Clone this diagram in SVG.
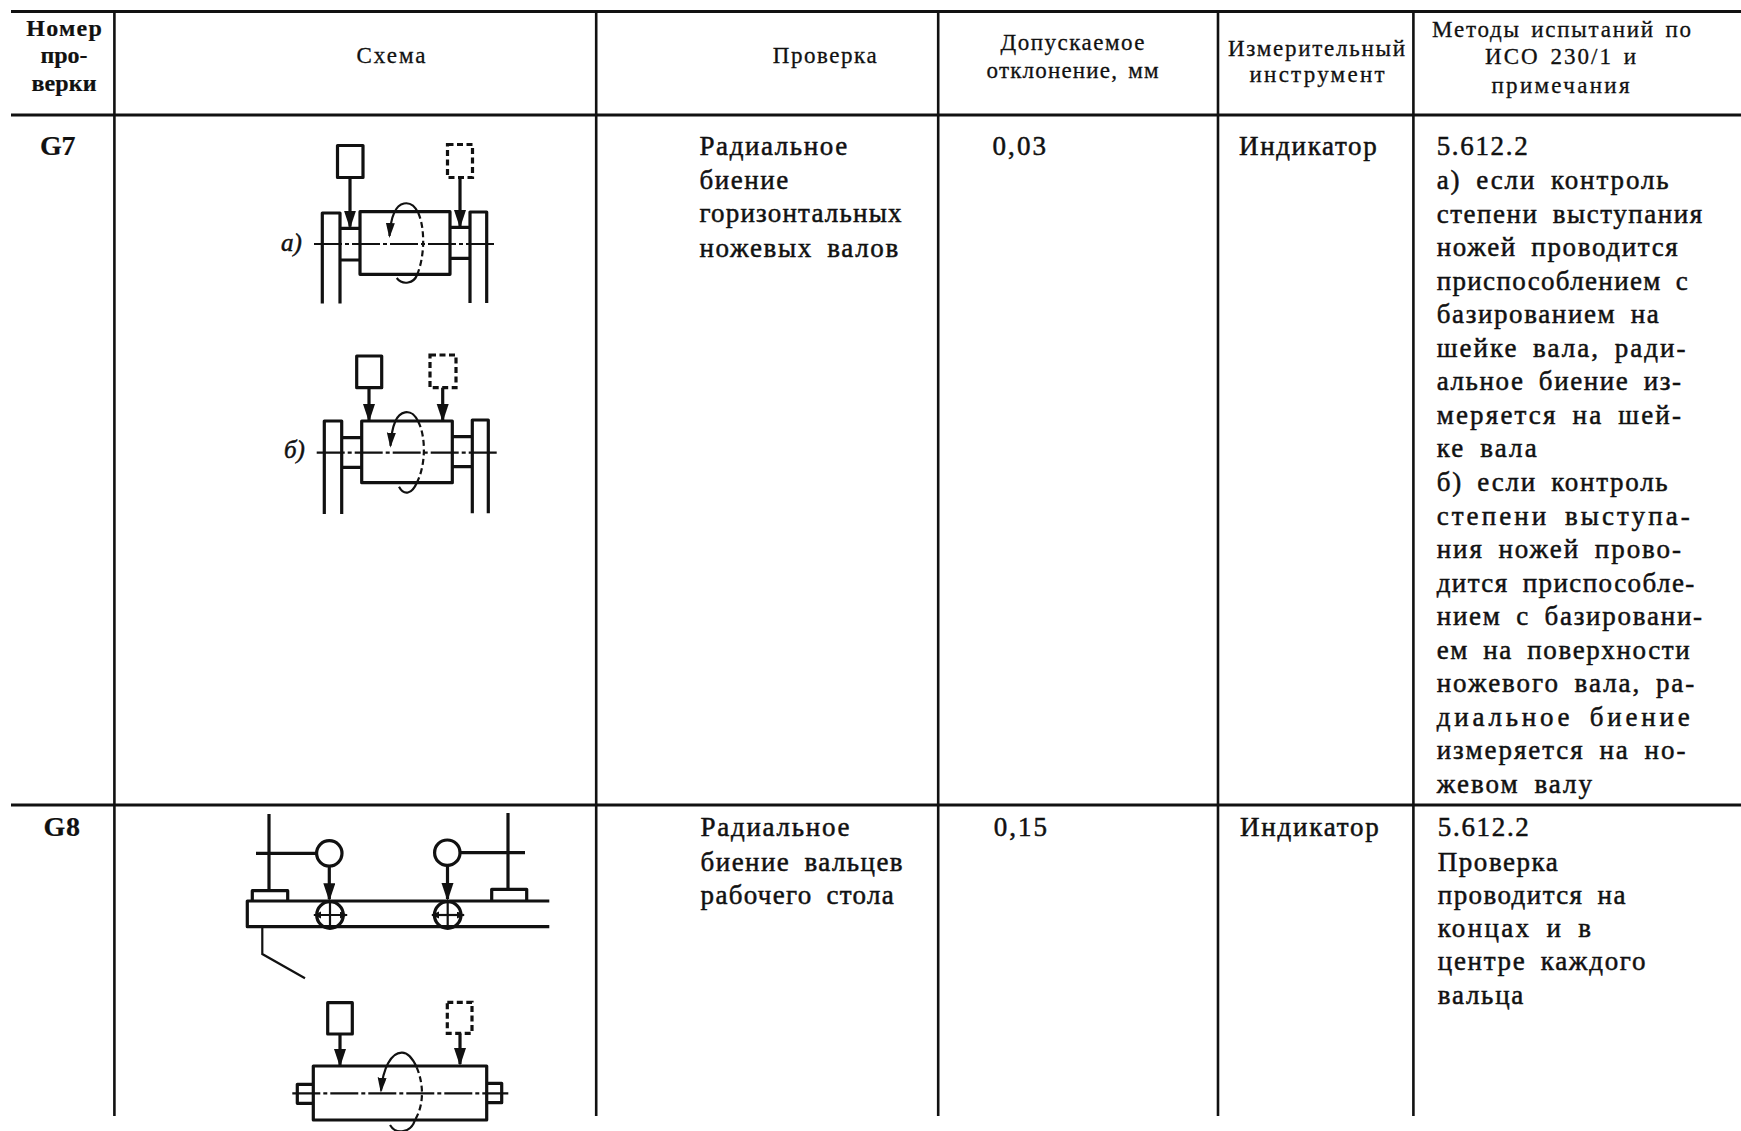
<svg xmlns="http://www.w3.org/2000/svg" width="1741" height="1131" viewBox="0 0 1741 1131">
<style>
text{font-family:"Liberation Serif","DejaVu Serif",serif;fill:#111;font-size:27px;stroke:#111;stroke-width:.5px;word-spacing:6px}
.h{font-size:23px;text-anchor:middle;stroke-width:.3px;word-spacing:3px}
.b{font-weight:bold;stroke-width:.2px;font-size:28px}
.hb{font-size:24px;font-weight:bold;text-anchor:middle;stroke-width:.2px}
.i{font-style:italic;font-size:25px}
.g{fill:none;stroke:#111;stroke-width:3.2;stroke-linejoin:round}
.t{fill:none;stroke:#111;stroke-width:2.2}
.k{fill:none;stroke:#111;stroke-width:3}
.l{fill:none;stroke:#111;stroke-width:2.6}
.d{fill:none;stroke:#111;stroke-width:3.2;stroke-dasharray:6 3.5}
.c{fill:none;stroke:#111;stroke-width:2.2;stroke-dasharray:28 3 4 3}
.r{fill:none;stroke:#111;stroke-width:2.2}
.rd{fill:none;stroke:#111;stroke-width:2.2;stroke-dasharray:6 3.5}
.a{fill:none;stroke:#111;stroke-width:3.2;marker-end:url(#ah)}
</style>
<defs>
<marker id="ah" markerUnits="userSpaceOnUse" markerWidth="20" markerHeight="14" refX="16" refY="6" orient="auto"><path d="M0 0L18 6L0 12Z" fill="#111"/></marker>
<marker id="as" markerUnits="userSpaceOnUse" markerWidth="18" markerHeight="12" refX="13" refY="4.500" orient="auto"><path d="M0 0L15 4.500L0 9Z" fill="#111"/></marker>
<marker id="am" markerUnits="userSpaceOnUse" markerWidth="10" markerHeight="8" refX="7" refY="3.500" orient="auto-start-reverse"><path d="M0 0L8 3.500L0 7Z" fill="#111"/></marker>
</defs>
<rect width="1741" height="1131" fill="#fff"/>
<g id="table-grid">
<path class="k" d="M11 11.5H1741M11 115H1741M11 805H1741"/>
<path class="l" d="M114.4 11V1116M596.2 11V1116M938.2 11V1116M1218 11V1116M1413.4 11V1116"/>
</g>
<g id="header">
<text class="hb" x="64" y="35.500" textLength="75.500">Номер</text>
<text class="hb" x="64" y="63.300">про-</text>
<text class="hb" x="64" y="91" textLength="65">верки</text>
<text class="h" x="391" y="63" textLength="69">Схема</text>
<text class="h" x="824.700" y="63" textLength="104">Проверка</text>
<text class="h" x="1072.500" y="50" textLength="144">Допускаемое</text>
<text class="h" x="1072.500" y="78" textLength="172">отклонение, мм</text>
<text class="h" x="1316.500" y="55.500" textLength="177">Измерительный</text>
<text class="h" x="1317" y="82" textLength="135">инструмент</text>
<text class="h" x="1561.500" y="36.600" textLength="259">Методы испытаний по</text>
<text class="h" x="1560.500" y="64.400" textLength="151">ИСО 230/1 и</text>
<text class="h" x="1560.500" y="93.300" textLength="138">примечания</text>
</g>
<g id="row-g7">
<text class="b" x="40" y="155.400" textLength="35.500">G7</text>
<text x="699.500" y="155.400" textLength="147.700">Радиальное</text>
<text x="699.500" y="188.700" textLength="88.800">биение</text>
<text x="699.500" y="222" textLength="202">горизонтальных</text>
<text x="699.500" y="256.500" textLength="198.700">ножевых валов</text>
<text x="992.600" y="155.400" textLength="53.300">0,03</text>
<text x="1239" y="155.400" textLength="137.700">Индикатор</text>
<text x="1436.700" y="155.400" textLength="91">5.612.2</text>
<text x="1436.700" y="189" textLength="232">а) если контроль</text>
<text x="1436.700" y="222.500" textLength="265.400">степени выступания</text>
<text x="1436.700" y="256" textLength="241">ножей проводится</text>
<text x="1436.700" y="289.600" textLength="251">приспособлением с</text>
<text x="1436.700" y="323.200" textLength="222">базированием на</text>
<text x="1436.700" y="356.700" textLength="248.700">шейке вала, ради-</text>
<text x="1436.700" y="390.300" textLength="244.300">альное биение из-</text>
<text x="1436.700" y="423.800" textLength="244.300">меряется на шей-</text>
<text x="1436.700" y="457.400" textLength="100">ке вала</text>
<text x="1436.700" y="490.900" textLength="231">б) если контроль</text>
<text x="1436.700" y="524.500" textLength="253">степени выступа-</text>
<text x="1436.700" y="558" textLength="244.300">ния ножей прово-</text>
<text x="1436.700" y="591.600" textLength="257.600">дится приспособле-</text>
<text x="1436.700" y="625.100" textLength="265.400">нием с базировани-</text>
<text x="1436.700" y="658.700" textLength="253">ем на поверхности</text>
<text x="1436.700" y="692.200" textLength="257.600">ножевого вала, ра-</text>
<text x="1436.700" y="725.800" textLength="253">диальное биение</text>
<text x="1436.700" y="759.300" textLength="248.700">измеряется на но-</text>
<text x="1436.700" y="792.900" textLength="155.400">жевом валу</text>
</g>
<g id="row-g8">
<text class="b" x="43.500" y="836" textLength="36.500">G8</text>
<text x="700.600" y="836" textLength="148.800">Радиальное</text>
<text x="700.600" y="870.500" textLength="202">биение вальцев</text>
<text x="700.600" y="904" textLength="193.200">рабочего стола</text>
<text x="993.700" y="836" textLength="53.300">0,15</text>
<text x="1240" y="836" textLength="138.800">Индикатор</text>
<text x="1437.800" y="836" textLength="91">5.612.2</text>
<text x="1437.800" y="870.500" textLength="120">Проверка</text>
<text x="1437.800" y="904" textLength="187.600">проводится на</text>
<text x="1437.800" y="937.100" textLength="153.200">концах и в</text>
<text x="1437.800" y="970.400" textLength="207.600">центре каждого</text>
<text x="1437.800" y="1003.700" textLength="85.500">вальца</text>
</g>
<g id="scheme-a">
<rect class="g" x="337.500" y="145.500" width="25.500" height="32"/>
<rect class="d" x="447.500" y="144.500" width="25" height="33"/>
<rect class="g" x="360" y="211.700" width="90" height="62.600"/>
<path class="g" d="M322.300 303.500V213H340V303.500M340 228.300H360M340 260H360M450 227.300H470M450 258.300H470M470 303V212H486.700V303"/>
<path class="c" d="M314 244H494"/>
<path class="r" d="M418.300 213C414 204 409 202.500 404 203.500C396 205 391 214 389.500 236" marker-end="url(#as)"/>
<path class="rd" d="M418.300 213C425 228 425 256 417 275"/>
<path class="r" d="M417 275C414 283 403 286 396.700 278"/>
<text class="i" x="281" y="250.700">а)</text>
</g>
<g id="scheme-b">
<rect class="g" x="356.700" y="356" width="25" height="31.700"/>
<rect class="d" x="430" y="355" width="26" height="32.700"/>
<rect class="g" x="361.700" y="421" width="90.600" height="61.700"/>
<path class="g" d="M324.300 514V421H341.700V514M341.700 437.700H361.700M341.700 467.300H361.700M452.300 436.700H472.300M452.300 466.700H472.300M472.300 513.300V420H488.300V513.300"/>
<path class="c" d="M316.700 452.700H497"/>
<path class="r" d="M418.300 421.700C414 413 410 411.500 405 412.300C397 413.500 392 423 390.500 445.700" marker-end="url(#as)"/>
<path class="rd" d="M418.300 421.700C426 437 426 465 416.700 483"/>
<path class="r" d="M416.700 483C412 494 404 496 399 486.700"/>
<text class="i" x="284" y="458">б)</text>
</g>
<g id="scheme-g8-top">
<path class="g" d="M269 814V889M256 853.300H316.700M508 813V888M460 852.700H525"/>
<circle class="g" cx="329.300" cy="853.300" r="12.700"/>
<circle class="g" cx="447.300" cy="852.700" r="12.700"/>
<path class="g" d="M252.300 900V890.700H287.700V900M491.700 900V889.300H526.700V900"/>
<path class="g" d="M549.300 901H247.300V926.700H549.300"/>
<circle class="g" cx="330" cy="915" r="13.300"/>
<circle class="g" cx="447.700" cy="915" r="13.300"/>
<path class="t" d="M330 901V929M447.700 901V929"/>
<path class="t" d="M314 915H347" marker-start="url(#am)" marker-end="url(#am)"/>
<path class="t" d="M432 915H464" marker-start="url(#am)" marker-end="url(#am)"/>
<path class="t" d="M262.300 928V954L305 978.300"/>
</g>
<g id="scheme-g8-bottom">
<rect class="g" x="327.700" y="1002.700" width="24.600" height="31.300"/>
<rect class="d" x="447.300" y="1002.300" width="24.700" height="31"/>
<rect class="g" x="313.300" y="1066" width="173.400" height="54"/>
<path class="g" d="M313.300 1084.300H297.300V1103.300H313.300M486.700 1083.300H501.700V1102.700H486.700"/>
<path class="c" d="M292.300 1093.300H508.300"/>
<path class="r" d="M416.700 1067.300C412 1057 407 1052.500 401.700 1052.700C391 1053 383 1068 381 1090.700" marker-end="url(#as)"/>
<path class="rd" d="M416.700 1067.300C424 1085 424 1105 415 1120"/>
<path class="r" d="M415 1120C411 1133 396 1135 390 1125"/>
</g>
<g id="connectors">
<path class="a" d="M350 177.700V226.700"/>
<path class="a" d="M460 177.300V226"/>
<path class="a" d="M369 387.700V420"/>
<path class="a" d="M442.700 387.700V420"/>
<path class="a" d="M329.300 866V899.300"/>
<path class="a" d="M447.500 865.400V899"/>
<path class="a" d="M340 1034V1065"/>
<path class="a" d="M460 1033.300V1064"/>
</g>
</svg>
